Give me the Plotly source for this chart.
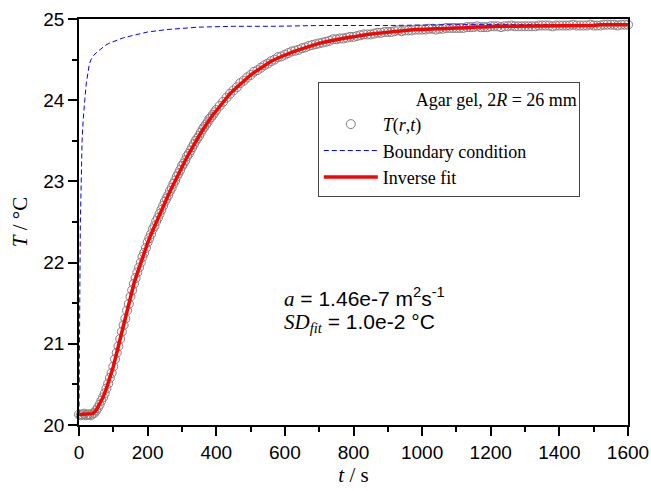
import plotly.graph_objects as go

# ---- measured data T(r,t) ----
t_meas = list(range(0, 400, 5)) + list(range(400, 1601, 10))
T_meas = [
    20.13, 20.12, 20.13, 20.14, 20.12, 20.13, 20.13, 20.12, 20.14, 20.15,
    20.18, 20.21, 20.25, 20.30, 20.34, 20.39, 20.45, 20.51, 20.58, 20.64,
    20.72, 20.81, 20.89, 20.97, 21.06, 21.15, 21.23, 21.31, 21.41, 21.49,
    21.58, 21.66, 21.74, 21.81, 21.88, 21.94, 22.00, 22.07, 22.12, 22.18,
    22.25, 22.30, 22.35, 22.41, 22.45, 22.51, 22.55, 22.60, 22.65, 22.70,
    22.75, 22.79, 22.83, 22.88, 22.92, 22.97, 23.01, 23.06, 23.10, 23.14,
    23.19, 23.22, 23.26, 23.31, 23.34, 23.38, 23.42, 23.46, 23.50, 23.53,
    23.56, 23.60, 23.64, 23.67, 23.70, 23.73, 23.77, 23.79, 23.82, 23.85,
    23.88, 23.93, 23.98, 24.03, 24.08, 24.12, 24.16, 24.21, 24.24, 24.28,
    24.31, 24.35, 24.37, 24.40, 24.43, 24.45, 24.48, 24.50, 24.53, 24.54,
    24.56, 24.58, 24.60, 24.61, 24.62, 24.64, 24.65, 24.67, 24.68, 24.69,
    24.70, 24.71, 24.72, 24.73, 24.75, 24.75, 24.76, 24.76, 24.77, 24.78,
    24.78, 24.79, 24.80, 24.81, 24.81, 24.81, 24.82, 24.83, 24.83, 24.84,
    24.84, 24.84, 24.85, 24.86, 24.85, 24.86, 24.86, 24.86, 24.87, 24.87,
    24.87, 24.87, 24.88, 24.88, 24.87, 24.88, 24.88, 24.89, 24.89, 24.89,
    24.89, 24.89, 24.89, 24.90, 24.90, 24.90, 24.91, 24.90, 24.90, 24.90,
    24.91, 24.91, 24.91, 24.90, 24.91, 24.91, 24.92, 24.91, 24.91, 24.91,
    24.91, 24.91, 24.91, 24.91, 24.92, 24.92, 24.92, 24.92, 24.91, 24.92,
    24.92, 24.92, 24.92, 24.92, 24.93, 24.92, 24.92, 24.92, 24.92, 24.93,
    24.92, 24.92, 24.92, 24.93, 24.93, 24.93, 24.93, 24.92, 24.93, 24.93,
    24.93,
]

# ---- inverse fit ----
t_fit = list(range(0, 401, 10)) + list(range(420, 1601, 20))
T_fit = [
    20.13, 20.13, 20.13, 20.13, 20.14, 20.18, 20.25, 20.34, 20.45, 20.57,
    20.72, 20.89, 21.06, 21.23, 21.40, 21.58, 21.74, 21.87, 22.00, 22.12,
    22.24, 22.35, 22.45, 22.55, 22.65, 22.74, 22.83, 22.92, 23.01, 23.10,
    23.18, 23.26, 23.34, 23.42, 23.49, 23.56, 23.63, 23.70, 23.76, 23.82,
    23.87,
    23.98, 24.08, 24.16, 24.24, 24.31, 24.37, 24.43, 24.48, 24.52, 24.56,
    24.59, 24.62, 24.65, 24.68, 24.70, 24.72, 24.74, 24.76, 24.77, 24.78,
    24.80, 24.81, 24.82, 24.83, 24.84, 24.85, 24.85, 24.86, 24.87, 24.87,
    24.88, 24.88, 24.88, 24.89, 24.89, 24.89, 24.90, 24.90, 24.90, 24.91,
    24.91, 24.91, 24.91, 24.91, 24.91, 24.91, 24.92, 24.92, 24.92, 24.92,
    24.92, 24.92, 24.92, 24.92, 24.92, 24.93, 24.93, 24.93, 24.93, 24.93,
]

# ---- boundary condition ----
t_bc = [0, 1, 2, 3, 4, 5, 7, 9, 12, 14, 17, 21, 26, 30, 35, 42, 52, 62, 75,
        87, 100, 130, 160, 200, 256, 350, 450, 566, 700, 900, 1100, 1300, 1600]
T_bc = [20.13, 20.5, 21.3, 22.0, 22.5, 22.8, 23.2, 23.5, 23.75, 23.9, 24.01,
        24.2, 24.36, 24.44, 24.5, 24.55, 24.59, 24.63, 24.67, 24.70, 24.72,
        24.77, 24.80, 24.84, 24.87, 24.90, 24.91, 24.91, 24.92, 24.92, 24.93,
        24.93, 24.93]

assert len(t_meas) == len(T_meas), (len(t_meas), len(T_meas))
assert len(t_fit) == len(T_fit), (len(t_fit), len(T_fit))
assert len(t_bc) == len(T_bc)

SERIF = "Liberation Serif, Times New Roman, serif"
SANS = "Liberation Sans, Arial, sans-serif"

fig = go.Figure()
fig.add_trace(go.Scatter(
    x=t_meas, y=T_meas, mode="markers", name="<i>T</i>(<i>r</i>,<i>t</i>)",
    marker=dict(symbol="circle-open", size=9, color="#808080",
                line=dict(width=1, color="#808080")),
    cliponaxis=False, legendgroup="a"))
fig.add_trace(go.Scatter(
    x=t_bc, y=T_bc, mode="lines", name="Boundary condition",
    line=dict(color="#0000ff", width=1, dash="5px,3px"), legendgroup="b"))
fig.add_trace(go.Scatter(
    x=t_fit, y=T_fit, mode="lines", name="Inverse fit",
    line=dict(color="#ff0000", width=3.5), cliponaxis=False, legendgroup="c"))

axis_common = dict(showline=True, linecolor="black", linewidth=1.5, mirror=True,
                   ticks="outside", ticklen=9, tickwidth=1.5, tickcolor="black",
                   showgrid=False, zeroline=False, automargin=False,
                   tickfont=dict(family=SANS, size=19, color="black"))

fig.update_xaxes(range=[0, 1600], dtick=200, tick0=0,
                 minor=dict(ticks="outside", ticklen=5, tickwidth=1.5,
                            tickcolor="black", dtick=100, showgrid=False),
                 title=dict(text="<i>t</i> / s", font=dict(family=SERIF, size=21, color="black"),
                            standoff=4),
                 **axis_common)
fig.update_yaxes(range=[20, 25], dtick=1, tick0=20,
                 minor=dict(ticks="outside", ticklen=5, tickwidth=1.5,
                            tickcolor="black", dtick=0.5, showgrid=False),
                 title=dict(text="<i>T</i> / °C", font=dict(family=SERIF, size=21, color="black"),
                            standoff=10),
                 **axis_common)

pad = "\u00a0" * 21
fig.update_layout(
    width=651, height=491,
    margin=dict(l=79, r=23, t=19, b=66, autoexpand=False),
    plot_bgcolor="white", paper_bgcolor="white",
    showlegend=True,
    legend=dict(
        x=0.435, y=0.846, xanchor="left", yanchor="top",
        bgcolor="white", bordercolor="#444", borderwidth=1,
        font=dict(family=SERIF, size=18, color="black"),
        title=dict(text=pad + "Agar gel, 2<i>R</i> = 26 mm", side="top right",
                   font=dict(family=SERIF, size=18, color="black")),
        itemwidth=54, tracegroupgap=0, traceorder="normal",
    ),
    annotations=[
        dict(xref="paper", yref="paper", x=0.37, y=0.315, xanchor="left", yanchor="middle",
             showarrow=False, font=dict(family=SANS, size=21, color="black"),
             text='<span style="font-family:Liberation Serif"><i>a</i></span> = 1.46e-7 m<sup>2</sup>s<sup>-1</sup>'),
        dict(xref="paper", yref="paper", x=0.37, y=0.252, xanchor="left", yanchor="middle",
             showarrow=False, font=dict(family=SANS, size=21, color="black"),
             text='<span style="font-family:Liberation Serif"><i>SD</i><sub><i>fit</i></sub></span> = 1.0e-2 °C'),
    ],
)

fig.write_html("out.html", config={"displayModeBar": False},
               post_script="document.body.style.margin='0px';")
